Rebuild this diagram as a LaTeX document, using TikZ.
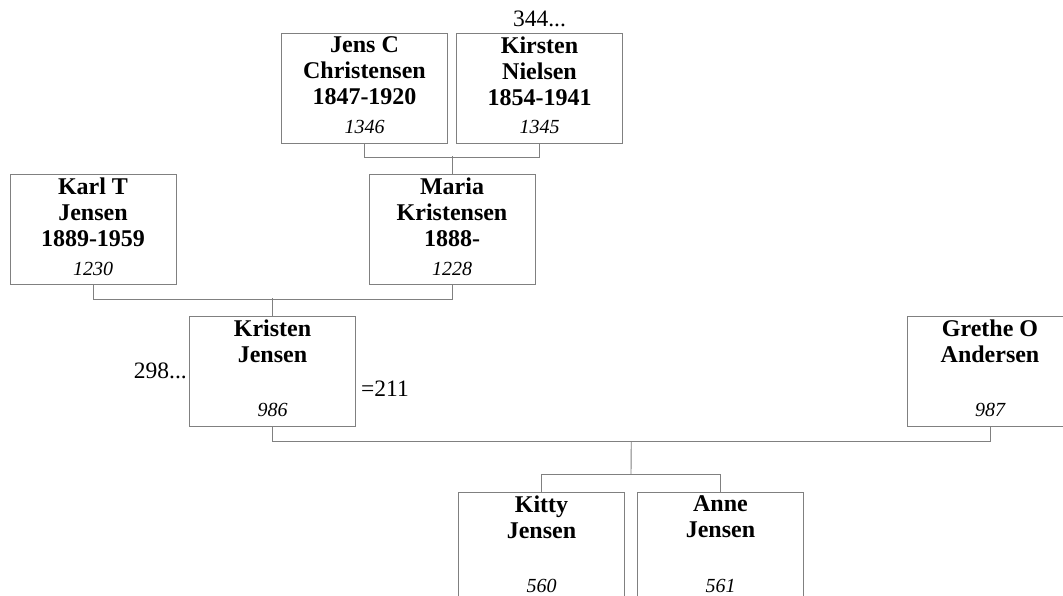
\documentclass[tikz,border=0pt]{standalone}
\usepackage{fontspec}
\setmainfont{Liberation Serif}
\usetikzlibrary{positioning,calc}

\begin{document}
\begin{tikzpicture}[
  x=1pt,y=-1pt,
  person/.style={draw=black!50,line width=0.9pt,minimum width=166pt,minimum height=110pt,inner sep=0pt},
  pname/.style={anchor=north,align=center,inner sep=4pt,font=\fontsize{24}{26}\selectfont\bfseries},
  pid/.style={anchor=south,inner sep=9.5pt,font=\fontsize{20}{22}\selectfont\itshape},
  note/.style={inner sep=0pt,font=\fontsize{23.5}{26}\selectfont},
  link/.style={draw=black!50,line width=0.9pt}
]
  \useasboundingbox (0,0) rectangle (1063,596);

  % grandparents
  \node[person,label={[pname]north:{Jens C\\Christensen\\1847-1920}},label={[pid]south:1346}] (jens) at (364.5,88) {};
  \node[person,label={[pname]north:{Kirsten\\Nielsen\\1854-1941}},label={[pid]south:1345}] (kirsten) at (539.5,88) {};
  \node[note,above=6pt of kirsten] (kirstenref) {344...};

  % parents
  \node[person,label={[pname]north:{Karl T\\Jensen\\1889-1959}},label={[pid]south:1230}] (karl) at (93,229.5) {};
  \node[person,label={[pname]north:{Maria\\Kristensen\\1888-}},label={[pid]south:1228}] (maria) at (452,229.5) {};

  % couple
  \node[person,label={[pname]north:{Kristen\\Jensen}},label={[pid]south:986}] (kristen) at (272.5,371) {};
  \node[note,left=2pt of kristen] (kristenref) {298...};
  \node[note,anchor=base west] (kristeneq) at ([xshift=5pt,yshift=30pt]kristen.south east) {=211};
  \node[person,label={[pname]north:{Grethe O\\Andersen}},label={[pid]south:987}] (grethe) at (990,371) {};

  % children
  \node[person,label={[pname]north:{Kitty\\Jensen}},label={[pid]south:560}] (kitty) at (541.5,547) {};
  \node[person,label={[pname]north:{Anne\\Jensen}},label={[pid]south:561}] (anne) at (720.5,547) {};

  \coordinate (fam3) at ($(kristen.south)!.5!(grethe.south)+(0,15)$);
  \coordinate (kids) at ($(kitty.north)!.5!(anne.north)+(0,-17)$);

  \draw[link] (jens.south) -- ++(0,14) -| (kirsten.south);
  \draw[link] (maria.north) -- ++(0,-18);
  \draw[link] (karl.south) -- ++(0,14) -| (maria.south);
  \draw[link] (kristen.north) -- ++(0,-18);
  \draw[link] (kristen.south) -- ++(0,15) -| (grethe.south);
  \draw[link] (kitty.north) -- ++(0,-17) -| (anne.north);
  \draw[link] (fam3) -- (kids);
\end{tikzpicture}
\end{document}
